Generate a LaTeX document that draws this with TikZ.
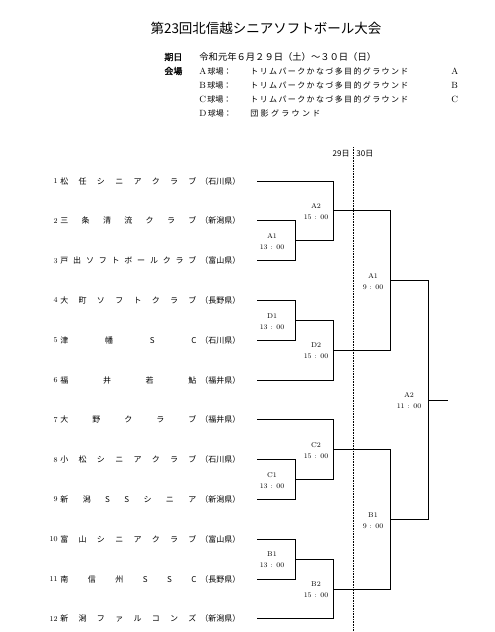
\documentclass[tikz,border=0pt]{standalone}
\usepackage{fontspec}
\newfontfamily\jp{Noto Sans CJK JP}
\newfontfamily\jpbf[FakeBold=1.5]{Noto Sans CJK JP}
\usetikzlibrary{calc}

% stretch a row of characters over a fixed width
\newcommand{\spreadtxt}[2]{\makebox[#1][s]{#2}}
% one bout of the bracket: name, upper entry, lower entry, column
\newcommand{\bout}[4]{%
  \draw (#2) -- (#2 -| #4) -- (#3 -| #4) -- (#3);
  \coordinate (#1) at ($(#2 -| #4)!0.5!(#3 -| #4)$);}

\begin{document}
\begin{tikzpicture}[x=1pt, y=-1pt, line width=0.8pt,
  teamtxt/.style={font=\jp\fontsize{8}{9}\selectfont, inner sep=0pt},
  numtxt/.style={font=\fontsize{7.5}{8}\selectfont, inner sep=0pt},
  infotxt/.style={font=\jp\fontsize{8}{10}\selectfont, inner sep=0pt, anchor=west},
  boutlbl/.style={font=\fontsize{7}{11}\selectfont, align=center, inner sep=0pt}]

\useasboundingbox (0,0) rectangle (495,632);

% Title
\node[font=\jp\fontsize{13.5}{15}\selectfont] (title) at (266,28)
  {第23回北信越シニアソフトボール大会};

% Date and grounds
\node[infotxt, font=\jpbf\fontsize{9}{10}\selectfont] (kijitsu) at (164,57) {期日};
\node[infotxt, font=\jp\fontsize{9.3}{10}\selectfont] (date) at (199,57)
  {令和元年６月２９日（土）～３０日（日）};
\node[infotxt, font=\jpbf\fontsize{9}{10}\selectfont] (kaijo) at (164,71) {会場};
\foreach \g/\yy in {A/71, B/85, C/99} {
  \node[infotxt] (g\g) at (199,\yy) {{\rmfamily\fontsize{9}{10}\selectfont \g}\,球場：};
  \node[infotxt] (gn\g) at (250,\yy)
    {\spreadtxt{158pt}{ト リ ム パ ー ク か な づ 多 目 的 グ ラ ウ ン ド}};
  \node[infotxt, font=\rmfamily\fontsize{9}{10}\selectfont] (gc\g) at (451,\yy) {\g};
}
\node[infotxt] (gD) at (199,113) {{\rmfamily\fontsize{9}{10}\selectfont D}\,球場：};
\node[infotxt] (gnD) at (250,113) {\spreadtxt{70pt}{団 影 グ ラ ウ ン ド}};

% Day split
\draw[dash pattern=on 0.8pt off 0.8pt, line width=0.6pt] (353,147) -- (353,632);
\node[teamtxt, anchor=east] (day1) at (350,154) {29日};
\node[teamtxt, anchor=west] (day2) at (356,154) {30日};

% Columns of the bracket
\coordinate (c1) at (295,0);
\coordinate (c2) at (333,0);
\coordinate (c3) at (390,0);
\coordinate (c4) at (428,0);

% Teams
\foreach \n/\tname/\pref [count=\i] in {
    1/松 任 シ ニ ア ク ラ ブ/石川県,
    2/三 条 清 流 ク ラ ブ/新潟県,
    3/戸 出 ソ フ ト ボ ー ル ク ラ ブ/富山県,
    4/大 町 ソ フ ト ク ラ ブ/長野県,
    5/津 幡 S C/石川県,
    6/福 井 若 鮎/福井県,
    7/大 野 ク ラ ブ/福井県,
    8/小 松 シ ニ ア ク ラ ブ/石川県,
    9/新 潟 S S シ ニ ア/新潟県,
    10/富 山 シ ニ ア ク ラ ブ/富山県,
    11/南 信 州 S S C/長野県,
    12/新 潟 フ ァ ル コ ン ズ/新潟県} {
  \pgfmathsetmacro{\ty}{181+39.8*(\i-1)}
  \node[numtxt, anchor=east] (num\i) at (58,\ty) {\n};
  \node[teamtxt, anchor=west] (name\i) at (60,\ty) {\spreadtxt{136pt}{\tname}};
  \node[teamtxt, anchor=west] (pref\i) at (200,\ty) {（\pref）};
  \coordinate (t\i) at (257,\ty);
}

% First round (29th, 13:00)
\bout{mA1}{t2}{t3}{c1}
\bout{mD1}{t4}{t5}{c1}
\bout{mC1}{t8}{t9}{c1}
\bout{mB1}{t10}{t11}{c1}
% Second round (29th, 15:00)
\bout{mA2}{t1}{mA1}{c2}
\bout{mD2}{mD1}{t6}{c2}
\bout{mC2}{t7}{mC1}{c2}
\bout{mB2}{mB1}{t12}{c2}
% Semi finals (30th, 9:00)
\bout{sA1}{mA2}{mD2}{c3}
\bout{sB1}{mC2}{mB2}{c3}
% Final (30th, 11:00)
\bout{fA2}{sA1}{sB1}{c4}
\coordinate (champ) at ($(fA2)+(20,0)$);
\draw (fA2) -- (champ);

% Ground and time of each bout
\node[boutlbl] at ([xshift=-23pt, yshift=-1pt]mA1) {A1\\13 : 00};
\node[boutlbl] at ([xshift=-23pt, yshift=-1pt]mD1) {D1\\13 : 00};
\node[boutlbl] at ([xshift=-23pt, yshift=-1pt]mC1) {C1\\13 : 00};
\node[boutlbl] at ([xshift=-23pt, yshift=-1pt]mB1) {B1\\13 : 00};
\node[boutlbl] at ([xshift=-17pt, yshift=-1pt]mA2) {A2\\15 : 00};
\node[boutlbl] at ([xshift=-17pt, yshift=-1pt]mD2) {D2\\15 : 00};
\node[boutlbl] at ([xshift=-17pt, yshift=-1pt]mC2) {C2\\15 : 00};
\node[boutlbl] at ([xshift=-17pt, yshift=-1pt]mB2) {B2\\15 : 00};
\node[boutlbl] at ([xshift=-17pt, yshift=-1pt]sA1) {A1\\9 : 00};
\node[boutlbl] at ([xshift=-17pt, yshift=-1pt]sB1) {B1\\9 : 00};
\node[boutlbl] at ([xshift=-19pt, yshift=-1pt]fA2) {A2\\11 : 00};

\end{tikzpicture}
\end{document}
